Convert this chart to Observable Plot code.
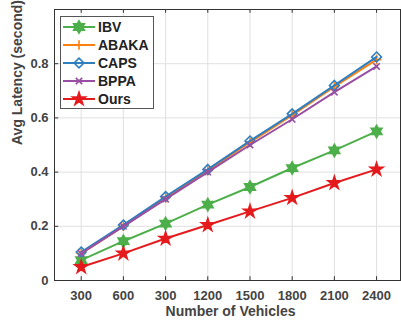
<!DOCTYPE html>
<html><head><meta charset="utf-8">
<script src="https://cdn.jsdelivr.net/npm/d3@7"></script>
<script src="https://cdn.jsdelivr.net/npm/@observablehq/plot@0.6"></script>
<style>
body{margin:0;background:#fff}
#chart{position:relative;width:401px;height:323px;font-family:"Liberation Sans",Arial,sans-serif}
#chart svg{position:absolute;left:0;top:0}
</style>
</head><body><div id="chart"></div>
<script>
// Average latency (seconds) per scheme against number of vehicles
const vehicles = ["300", "600", "300", "1200", "1500", "1800", "2100", "2400"];
const ibv   = [0.075, 0.145, 0.21, 0.28, 0.345, 0.415, 0.48, 0.55];
const abaka = [0.10, 0.20, 0.305, 0.405, 0.51, 0.61, 0.715, 0.815];
const caps  = [0.105, 0.205, 0.31, 0.41, 0.515, 0.615, 0.72, 0.825];
const bppa  = [0.10, 0.20, 0.30, 0.40, 0.50, 0.595, 0.695, 0.79];
const ours  = [0.05, 0.10, 0.155, 0.205, 0.255, 0.305, 0.36, 0.41];
const yTicks = [0, 0.2, 0.4, 0.6, 0.8];

// six-pointed star marker
const hexagram = {
  draw(ctx, size) {
    const R = Math.sqrt(size / 1.6), r = R / Math.sqrt(3);
    for (let i = 0; i < 12; i++) {
      const a = -Math.PI / 2 + i * Math.PI / 6, rad = i % 2 ? r : R;
      const px = rad * Math.cos(a), py = rad * Math.sin(a);
      i ? ctx.lineTo(px, py) : ctx.moveTo(px, py);
    }
    ctx.closePath();
  }
};

const series = [
  {name: "IBV",   values: ibv,   color: "#4daf4a", symbol: hexagram,    r: 4.4, fill: true},
  {name: "ABAKA", values: abaka, color: "#ff7f0e", symbol: "plus",      r: 3.2, fill: false},
  {name: "CAPS",  values: caps,  color: "#2f7fbf", symbol: "diamond2",  r: 4.4, fill: false},
  {name: "BPPA",  values: bppa,  color: "#984ea3", symbol: "times",     r: 3, fill: false},
  {name: "Ours",  values: ours,  color: "#e41a1c", symbol: "star",      r: 4, fill: true}
];

const idx = vehicles.map((_, i) => i + 1);
const xDomain = [0.367, 8.567];
const yDomain = [0, 1];

const marks = [
  Plot.gridX(idx, {stroke: "#e0e0e0", strokeOpacity: 1}),
  Plot.gridY(yTicks, {stroke: "#e0e0e0", strokeOpacity: 1}),
  // inward ticks
  Plot.ruleX(idx, {y1: 0, y2: 0.014, stroke: "#333"}),
  Plot.ruleX(idx, {y1: 0.986, y2: 1, stroke: "#333"}),
  Plot.ruleY(yTicks, {x1: xDomain[0], x2: xDomain[0] + 0.1, stroke: "#333"}),
  Plot.frame({stroke: "#333"}),
  Plot.axisX(idx, {tickSize: 0, tickPadding: 10, tickFormat: i => vehicles[i - 1],
    fontSize: 13, fontWeight: "bold", fill: "#444", label: null}),
  Plot.axisY(yTicks, {tickSize: 0, tickPadding: 6, tickFormat: d => d === 0 ? "0" : d3.format(".1f")(d),
    fontSize: 13, fontWeight: "bold", fill: "#444", label: null}),
  Plot.text(["Number of Vehicles"], {frameAnchor: "bottom", dx: 3, dy: 35, fontSize: 14, fontWeight: "bold", fill: "#444"}),
  Plot.text(["Avg Latency (second)"], {frameAnchor: "left", dx: -37, rotate: -90, fontSize: 14, fontWeight: "bold", fill: "#444"})
];

for (const s of series) {
  const data = s.values.map((v, i) => ({x: i + 1, y: v}));
  marks.push(Plot.line(data, {x: "x", y: "y", stroke: s.color, strokeWidth: 2}));
  marks.push(Plot.dot(data, {x: "x", y: "y", symbol: () => s.symbol, r: s.r,
    stroke: s.color, strokeWidth: 1.6, fill: s.fill ? s.color : "none"}));
}

const chart = Plot.plot({
  width: 401, height: 323,
  marginLeft: 54, marginRight: 1, marginTop: 9, marginBottom: 43,
  style: {fontFamily: "Liberation Sans, Arial, sans-serif", background: "#fff"},
  x: {domain: xDomain, axis: null},
  y: {domain: yDomain, axis: null},
  symbol: {type: "identity"},
  marks
});
document.getElementById("chart").appendChild(chart);

// legend box
const lg = d3.select("#chart").append("svg").attr("width", 401).attr("height", 323)
  .style("pointer-events", "none");
lg.append("rect").attr("x", 60.5).attr("y", 16.5).attr("width", 93).attr("height", 92)
  .attr("fill", "#fff").attr("stroke", "#555");
const symbolTypes = {plus: d3.symbolPlus, diamond2: d3.symbolDiamond2, times: d3.symbolTimes, star: d3.symbolStar};
series.forEach((s, i) => {
  const y = 27 + 18 * i;
  const g = lg.append("g");
  g.append("line").attr("x1", 63).attr("x2", 95).attr("y1", y).attr("y2", y)
    .attr("stroke", s.color).attr("stroke-width", 2);
  const type = typeof s.symbol === "string" ? symbolTypes[s.symbol] : s.symbol;
  g.append("path").attr("d", d3.symbol(type, Math.PI * s.r * s.r)())
    .attr("transform", `translate(79,${y})`)
    .attr("fill", s.fill ? s.color : "none").attr("stroke", s.color).attr("stroke-width", 1.6);
  g.append("text").attr("x", 98).attr("y", y).attr("dy", "0.36em")
    .attr("font-size", 14).attr("font-weight", "bold").attr("fill", "#222")
    .attr("font-family", "Liberation Sans, Arial, sans-serif").text(s.name);
});
</script></body></html>
